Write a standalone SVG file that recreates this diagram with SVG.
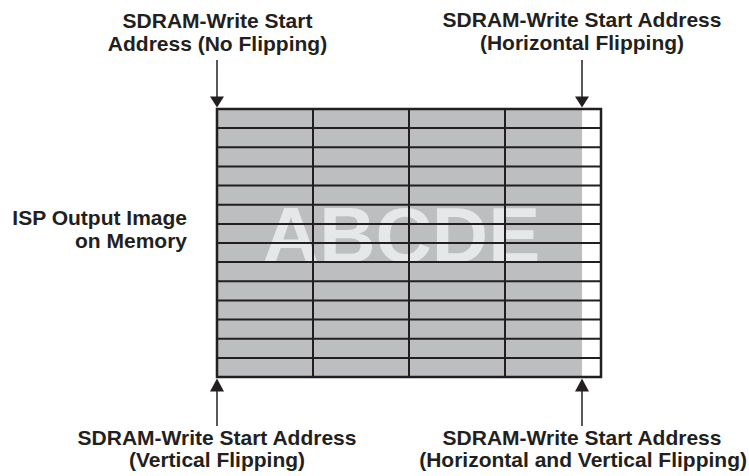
<svg xmlns="http://www.w3.org/2000/svg" width="749" height="476" viewBox="0 0 749 476">
<style>
.lbl{font-family:"Liberation Sans",Arial,sans-serif;font-weight:bold;font-size:21px;fill:#231f20}
.grid{stroke:#231f20;stroke-width:2;fill:none}
.conn{stroke:#231f20;stroke-width:1.5;fill:none}
.head{fill:#231f20}
</style>
<rect width="749" height="476" fill="#ffffff"/>
<g id="memory-image">
<rect x="217" y="109" width="365" height="268" fill="#bcbec0"/>
<rect x="582" y="109" width="19" height="268" fill="#ffffff"/>
<text x="401.5" y="261.5" text-anchor="middle" style="font-family:'Liberation Sans',Arial,sans-serif;font-weight:bold;font-size:78px;fill:#e6e7e8">ABCDE</text>
<g class="grid">
<path d="M217 128.1H601M217 147.3H601M217 166.4H601M217 185.6H601M217 204.7H601M217 223.9H601M217 243H601M217 262.1H601M217 281.3H601M217 300.4H601M217 319.6H601M217 338.7H601M217 357.9H601"/>
<path d="M313 109V377M409 109V377M505 109V377"/>
<rect x="217" y="109" width="384" height="268" stroke-width="2.5"/>
</g>
</g>
<g id="label-isp">
<text class="lbl" x="187" y="225" text-anchor="end">ISP Output Image</text>
<text class="lbl" x="187" y="248" text-anchor="end">on Memory</text>
</g>
<g id="label-no-flip">
<text class="lbl" x="217.5" y="28" text-anchor="middle">SDRAM-Write Start</text>
<text class="lbl" x="217.5" y="51" text-anchor="middle">Address (No Flipping)</text>
</g>
<g id="label-h-flip">
<text class="lbl" x="582" y="27" text-anchor="middle">SDRAM-Write Start Address</text>
<text class="lbl" x="582" y="50" text-anchor="middle">(Horizontal Flipping)</text>
</g>
<g id="label-v-flip">
<text class="lbl" x="217" y="445" text-anchor="middle">SDRAM-Write Start Address</text>
<text class="lbl" x="217" y="467" text-anchor="middle">(Vertical Flipping)</text>
</g>
<g id="label-hv-flip">
<text class="lbl" x="582" y="445" text-anchor="middle">SDRAM-Write Start Address</text>
<text class="lbl" x="747" y="467" text-anchor="end">(Horizontal and Vertical Flipping)</text>
</g>
<g id="connectors">
<path class="conn" d="M217 60V97"/>
<path class="head" d="M210 96.5H224L217 107.5Z"/>
<path class="conn" d="M582 60V97"/>
<path class="head" d="M575 96.5H589L582 107.5Z"/>
<path class="conn" d="M217 391V426"/>
<path class="head" d="M210 391.5H224L217 378.5Z"/>
<path class="conn" d="M582 391V426"/>
<path class="head" d="M575 391.5H589L582 378.5Z"/>
</g>
</svg>
